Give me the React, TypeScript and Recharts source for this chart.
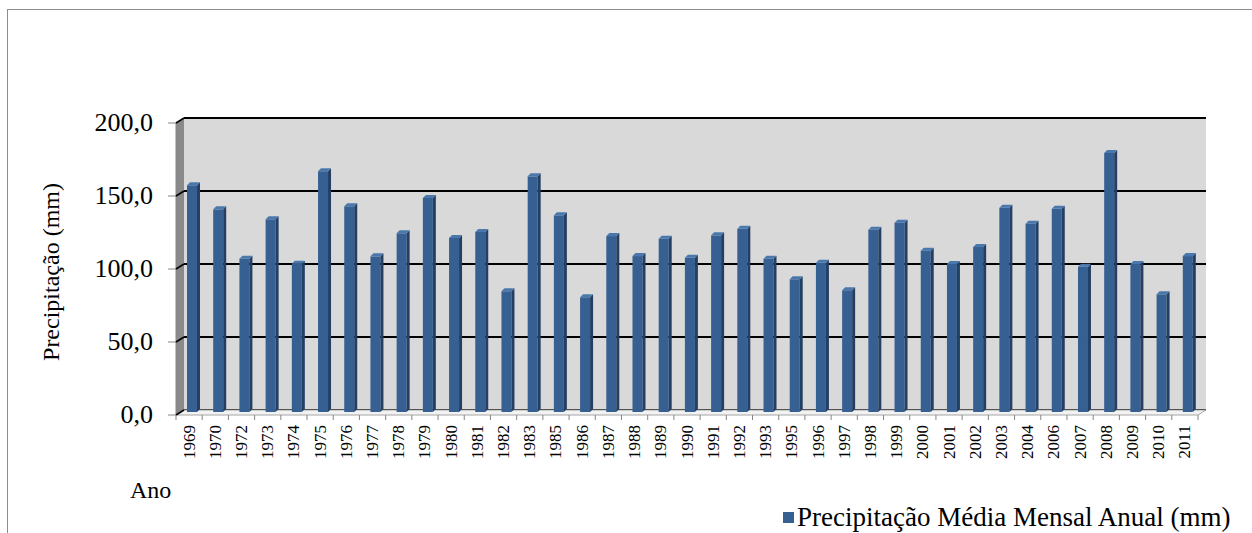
import React from "react";
import { BarChart, Bar, XAxis, YAxis, CartesianGrid, Legend } from "recharts";

const anos = [
  "1969", "1970", "1972", "1973", "1974", "1975", "1976", "1977", "1978", "1979",
  "1980", "1981", "1982", "1983", "1985", "1986", "1987", "1988", "1989", "1990",
  "1991", "1992", "1993", "1995", "1996", "1997", "1998", "1999", "2000", "2001",
  "2002", "2003", "2004", "2006", "2007", "2008", "2009", "2010", "2011",
];

const precipitacao = [
  155.3, 138.8, 105.0, 132.0, 101.6, 164.9, 140.9, 106.6, 122.4, 146.6,
  119.2, 123.3, 82.7, 161.4, 134.7, 78.6, 120.5, 106.8, 118.7, 105.7,
  121.0, 125.5, 105.0, 90.9, 102.3, 83.4, 124.9, 129.7, 110.5, 101.4,
  113.0, 139.9, 129.0, 139.2, 99.5, 177.4, 101.4, 80.6, 106.8,
];

const yTicks = [0, 50, 100, 150, 200];

const serieNome = "Precipitação Média Mensal Anual (mm)";

const data = anos.map((ano, i) => ({ ano, valor: precipitacao[i] }));

const W = 1252;
const H = 533;
const YAX_W = 60;
const XAX_H = 30;
const M = { top: 118, right: 46, bottom: 123 - XAX_H, left: 184 - YAX_W };
const plotL = 184;
const plotR = W - M.right;
const plotT = M.top;
const plotB = H - 123;
// front-face offset of the fake 3d box
const DX = -8;
const DY = 5;
const band = (plotR - plotL) / anos.length;

const font = "'Liberation Serif', Tinos, 'Times New Roman', Times, 'DejaVu Serif', serif";
const blue = "#376092";

const fmt = (v: number) => v.toFixed(1).replace(".", ",");

function Bar3D(props: any) {
  const { x, y, width, height } = props;
  if (height == null || height <= 0) return null;
  const d = 3;
  const x0 = x - 4;
  const y0 = y + 2;
  const fw = width - d;
  return (
    <g>
      <rect x={x0} y={y0} width={fw} height={height} fill={blue} />
      <polygon
        points={`${x0 + fw},${y0} ${x0 + fw + d},${y0 - d} ${x0 + fw + d},${y0 + height - d} ${x0 + fw},${y0 + height}`}
        fill="#243f63"
      />
      <polygon
        points={`${x0},${y0} ${x0 + d},${y0 - d} ${x0 + fw + d},${y0 - d} ${x0 + fw},${y0}`}
        fill="#4a78ad"
      />
    </g>
  );
}

function Caixa() {
  const fx0 = plotL + DX;
  const fx1 = plotR + DX;
  const fyB = plotB + DY;
  const fyT = plotT + DY;
  const scaleY = (v: number) => plotB - ((plotB - plotT) * v) / 200;
  return (
    <g>
      <rect x={7.5} y={9.5} width={1400} height={700} fill="none" stroke="#8c8c8c" />
      {/* left wall */}
      <polygon
        points={`${fx0},${fyT} ${plotL},${plotT} ${plotL},${plotB} ${fx0},${fyB}`}
        fill="#8a8a8a"
      />
      {/* floor */}
      <polygon
        points={`${fx0},${fyB} ${plotL},${plotB} ${plotR},${plotB} ${fx1},${fyB}`}
        fill="#f2f2f2"
        stroke="#a6a6a6"
      />
      <line x1={fx0} y1={fyT} x2={fx0} y2={fyB} stroke="#868686" />
      {yTicks.map((t) => (
        <line key={t} x1={fx0 - 8} y1={scaleY(t) + DY} x2={fx0} y2={scaleY(t) + DY} stroke="#868686" />
      ))}
      {yTicks.map((t) => (
        <line key={"b" + t} x1={fx0} y1={scaleY(t) + DY} x2={plotL} y2={scaleY(t)} stroke="#000" strokeWidth={1.5} />
      ))}
      {anos.map((a, i) => (
        <line key={a} x1={fx0 + i * band} y1={fyB} x2={fx0 + i * band} y2={fyB + 5} stroke="#868686" />
      ))}
      <line x1={fx1} y1={fyB} x2={fx1} y2={fyB + 5} stroke="#868686" />
      <text
        x={51}
        y={272}
        transform="rotate(-90 51 272)"
        textAnchor="middle"
        dominantBaseline="central"
        fontFamily={font}
        fontSize={24}
        fill="#000"
      >
        Precipitação (mm)
      </text>
      <text x={130} y={498} fontFamily={font} fontSize={24} fill="#000">
        Ano
      </text>
    </g>
  );
}

function YTick(props: any) {
  const { y, payload } = props;
  return (
    <text
      x={153}
      y={y + DY - 1}
      textAnchor="end"
      dominantBaseline="central"
      fontFamily={font}
      fontSize={26}
      fill="#000"
    >
      {fmt(payload.value)}
    </text>
  );
}

function XTick(props: any) {
  const { x, payload } = props;
  const tx = x + DX;
  const ty = plotB + DY + 10;
  return (
    <text
      x={tx}
      y={ty}
      transform={`rotate(-90 ${tx} ${ty})`}
      textAnchor="end"
      dominantBaseline="central"
      fontFamily={font}
      fontSize={17}
      fill="#000"
    >
      {payload.value}
    </text>
  );
}

function Legenda() {
  return (
    <div style={{ display: "flex", alignItems: "center", fontFamily: font, fontSize: 27, color: "#000", whiteSpace: "nowrap" }}>
      <span style={{ display: "inline-block", width: 11, height: 11, background: blue, marginRight: 3 }} />
      <span>{serieNome}</span>
    </div>
  );
}

export default function App() {
  return (
    <div style={{ position: "absolute", left: 0, top: 0, width: W, height: H, background: "#fff", fontFamily: font }}>
      <BarChart width={W} height={H} data={data} margin={M} barCategoryGap={0}>
        <CartesianGrid
          vertical={false}
          stroke="#000"
          strokeWidth={2}
          fill="#d9d9d9"
          fillOpacity={1}
        />
        <Caixa />
        <XAxis dataKey="ano" height={XAX_H} axisLine={false} tickLine={false} interval={0} tick={(p: any) => <XTick {...p} />} />
        <YAxis domain={[0, 200]} ticks={yTicks} width={YAX_W} axisLine={false} tickLine={false} tick={(p: any) => <YTick {...p} />} />
        <Bar dataKey="valor" name={serieNome} barSize={13} shape={<Bar3D />} isAnimationActive={false} />
        <Legend
          layout="horizontal"
          verticalAlign="middle"
          content={<Legenda />}
          wrapperStyle={{ position: "absolute", left: 783, top: 502, width: "auto" }}
        />
      </BarChart>
    </div>
  );
}
